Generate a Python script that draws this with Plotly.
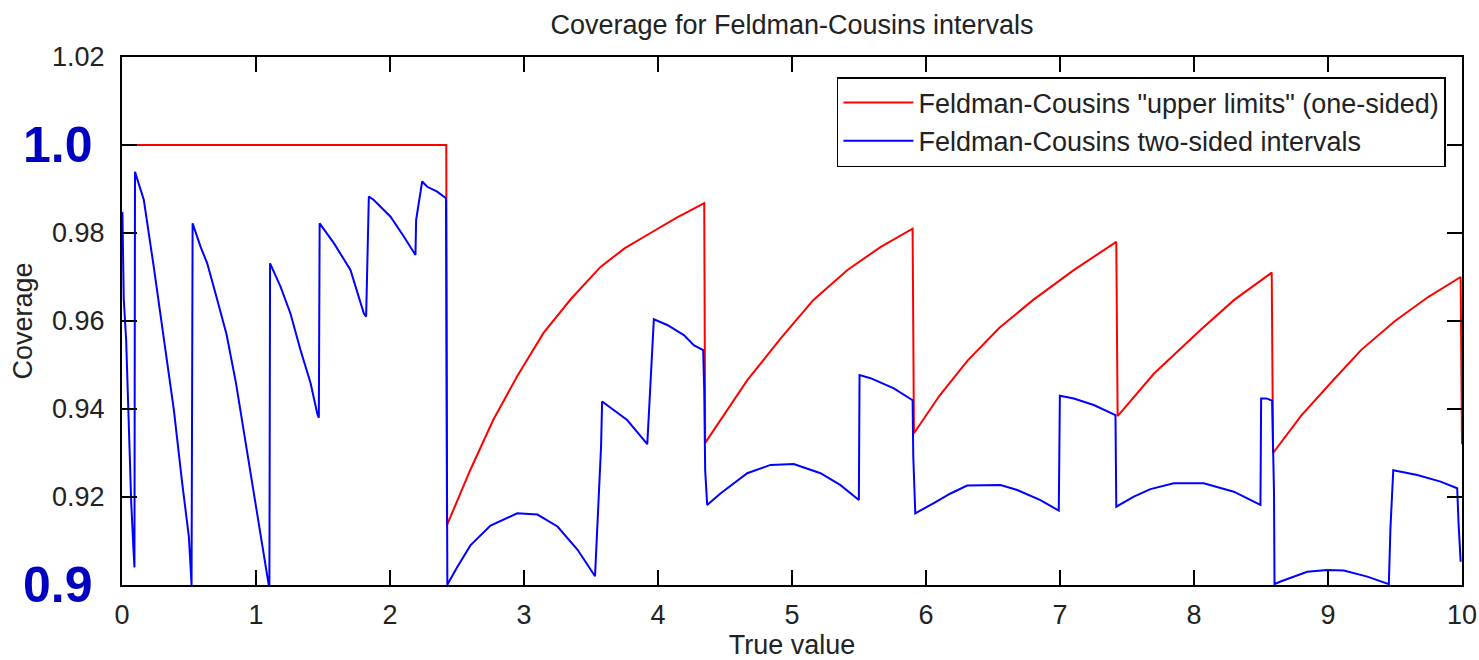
import plotly.graph_objects as go

# ---- data ----
red_x = [0.0, 2.42, 2.425, 2.6, 2.77, 2.95, 3.146, 3.35, 3.571, 3.75, 3.944, 4.14, 4.345,
         4.352, 4.668, 4.914, 5.16, 5.414, 5.66, 5.90,
         5.91, 6.10, 6.31, 6.55, 6.80, 7.10, 7.42,
         7.43, 7.70, 8.05, 8.30, 8.58,
         8.59, 8.80, 9.04, 9.25, 9.50, 9.75, 9.99,
         10.0]
red_y = [1.0, 1.0, 0.9136, 0.9262, 0.9375, 0.9475, 0.9573, 0.9650, 0.9723, 0.9765, 0.9800, 0.9835, 0.9868,
         0.9323, 0.9466, 0.9560, 0.9648, 0.9716, 0.9768, 0.9810,
         0.9345, 0.9430, 0.9510, 0.9585, 0.9648, 0.9715, 0.9780,
         0.9384, 0.9480, 0.9580, 0.9648, 0.9710,
         0.9300, 0.9385, 0.9466, 0.9535, 0.9600, 0.9655, 0.9700,
         0.9320]

blue_x = [0.003, 0.013, 0.031, 0.050, 0.069, 0.084, 0.093,
          0.097, 0.163, 0.237, 0.312, 0.387, 0.449, 0.499, 0.511, 0.519,
          0.523, 0.527, 0.586, 0.636, 0.70, 0.78, 0.85, 0.92, 0.98, 1.04, 1.08, 1.095,
          1.100, 1.105, 1.183, 1.257, 1.332, 1.407, 1.457, 1.469,
          1.475, 1.581, 1.705, 1.805, 1.822,
          1.830, 1.842, 1.879, 2.004, 2.103, 2.190,
          2.195, 2.225, 2.240, 2.278, 2.352, 2.418,
          2.428, 2.436, 2.50, 2.60, 2.75, 2.95, 3.10, 3.25, 3.40, 3.53,
          3.546, 3.575, 3.583, 3.77, 3.92,
          3.945, 3.969, 4.069, 4.193, 4.267, 4.337,
          4.345, 4.352, 4.367, 4.466, 4.666, 4.84, 5.013, 5.213, 5.362, 5.499,
          5.504, 5.586, 5.76, 5.90,
          5.905, 5.920, 6.058, 6.183, 6.307, 6.556, 6.681, 6.854, 6.991,
          6.999, 7.103, 7.252, 7.414,
          7.420, 7.551, 7.675, 7.849, 8.073, 8.297, 8.496,
          8.501, 8.540, 8.583,
          8.590, 8.597, 8.601, 8.646, 8.845, 8.994, 9.118, 9.293, 9.454,
          9.466, 9.487, 9.666, 9.840, 9.964,
          9.975, 9.990]
blue_y = [0.9848, 0.9650, 0.9557, 0.9364, 0.9186, 0.9090, 0.9040,
          0.9939, 0.9875, 0.9723, 0.9564, 0.9398, 0.9232, 0.9110, 0.9045, 0.9000,
          0.9410, 0.9822, 0.9769, 0.9731, 0.9660, 0.9570, 0.9460, 0.9330, 0.9210, 0.9100, 0.9030, 0.9000,
          0.9000, 0.9731, 0.9678, 0.9617, 0.9534, 0.9459, 0.9390, 0.9380,
          0.9822, 0.9777, 0.9716, 0.9617, 0.9610,
          0.9746, 0.9883, 0.9875, 0.9837, 0.9792, 0.9750,
          0.9830, 0.9886, 0.9917, 0.9905, 0.9894, 0.9879,
          0.9000, 0.9005, 0.9040, 0.9090, 0.9135, 0.9163, 0.9160, 0.9133, 0.9080, 0.9020,
          0.9117, 0.9314, 0.9417, 0.9375, 0.9320,
          0.9458, 0.9604, 0.9591, 0.9568, 0.9545, 0.9534,
          0.9443, 0.9261, 0.9182, 0.9208, 0.9254, 0.9273, 0.9275, 0.9254, 0.9227, 0.9193,
          0.9477, 0.9470, 0.9447, 0.9420,
          0.9292, 0.9163, 0.9186, 0.9208, 0.9226, 0.9227, 0.9216, 0.9193, 0.9169,
          0.9430, 0.9424, 0.9409, 0.9386,
          0.9178, 0.9201, 0.9218, 0.9231, 0.9231, 0.9212, 0.9182,
          0.9424, 0.9424, 0.9419,
          0.9300, 0.9210, 0.9002, 0.9008, 0.9030, 0.9034, 0.9033, 0.9019, 0.9002,
          0.9129, 0.9261, 0.9250, 0.9235, 0.9220,
          0.9136, 0.9053]

x_ticks = [0, 1, 2, 3, 4, 5, 6, 7, 8, 9, 10]
y_ticks = [0.90, 0.92, 0.94, 0.96, 0.98, 1.00, 1.02]
y_ticktext = ["", "0.92", "0.94", "0.96", "0.98", "", "1.02"]

FONT = "Liberation Sans, Arial, sans-serif"
TXT = "#222222"

fig = go.Figure()
fig.add_trace(go.Scatter(x=red_x, y=red_y, mode="lines",
                         name='Feldman-Cousins "upper limits" (one-sided)',
                         line=dict(color="#ff0000", width=2)))
fig.add_trace(go.Scatter(x=blue_x, y=blue_y, mode="lines",
                         name="Feldman-Cousins two-sided intervals",
                         line=dict(color="#0000ff", width=2)))

axis_common = dict(showline=True, linecolor="black", linewidth=2, mirror="ticks",
                   ticks="inside", ticklen=15, tickwidth=1.5, tickcolor="black",
                   showgrid=False, zeroline=False, automargin=False,
                   tickfont=dict(family=FONT, size=27, color=TXT))

fig.update_layout(
    width=1479, height=660,
    margin=dict(l=122, r=17, t=57, b=75),
    paper_bgcolor="white", plot_bgcolor="white",
    title=dict(text="Coverage for Feldman-Cousins intervals",
               font=dict(family=FONT, size=27, color=TXT),
               x=0.5, xref="paper", xanchor="center",
               y=1 - 25 / 660, yref="container", yanchor="middle"),
    xaxis=dict(range=[0, 10], tickvals=x_ticks, ticklabelstandoff=5,
               title=dict(text="True value", standoff=9,
                          font=dict(family=FONT, size=27, color=TXT)),
               **axis_common),
    yaxis=dict(range=[0.9, 1.02], tickvals=y_ticks, ticktext=y_ticktext,
               ticklabelstandoff=10,
               title=dict(text="Coverage", standoff=12,
                          font=dict(family=FONT, size=27, color=TXT)),
               **axis_common),
    legend=dict(x=0.988, xanchor="right", y=0.962, yanchor="top",
                bgcolor="white", bordercolor="black", borderwidth=1.5,
                font=dict(family=FONT, size=27, color=TXT),
                itemwidth=70),
    showlegend=True,
)

fig.add_annotation(text="<b>1.0</b>", xref="paper", yref="y", x=-0.048, y=1.0,
                   xanchor="center", yanchor="middle", showarrow=False,
                   font=dict(family=FONT, size=50, color="#0000c0"))
fig.add_annotation(text="<b>0.9</b>", xref="paper", yref="y", x=-0.048, y=0.9,
                   xanchor="center", yanchor="middle", showarrow=False,
                   font=dict(family=FONT, size=50, color="#0000c0"))

fig.write_html("out.html")
